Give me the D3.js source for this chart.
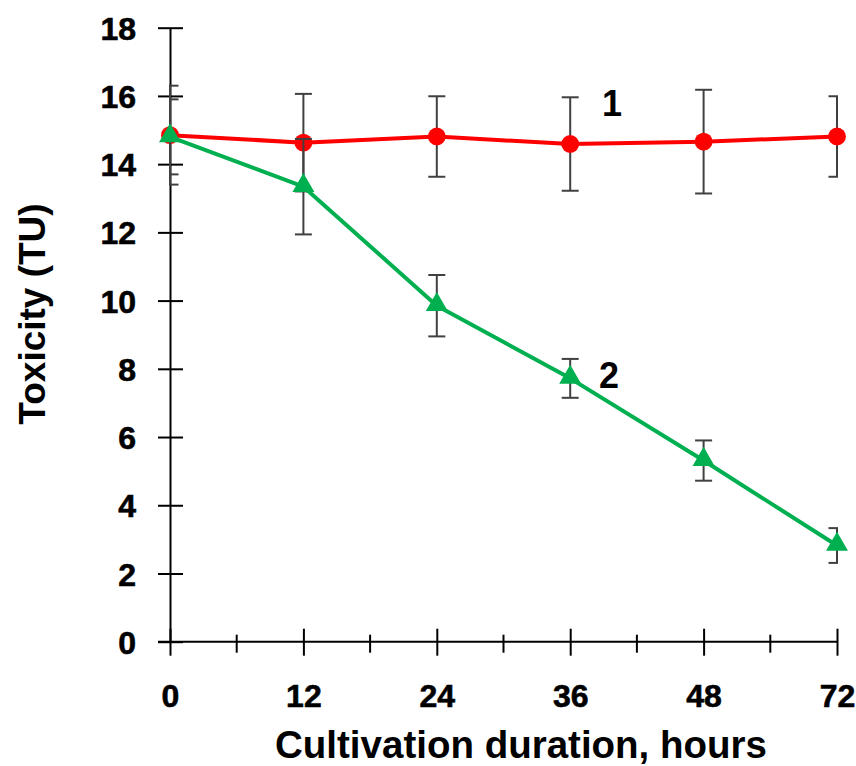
<!DOCTYPE html>
<html><head><meta charset="utf-8">
<script src="https://cdn.jsdelivr.net/npm/d3@7"></script>
<style>
html,body{margin:0;padding:0;background:#fff;}
svg{display:block;font-family:"Liberation Sans",Arial,sans-serif;font-weight:bold;}
</style></head>
<body><svg id="c" width="856" height="766"></svg>
<script>
const categories = ["0","12","24","36","48","72"];
const series1 = [14.85, 14.63, 14.81, 14.59, 14.66, 14.81];
const err1    = [1.45, 1.43, 1.18, 1.37, 1.52, 1.18];
const series2 = [14.8, 13.34, 9.85, 7.72, 5.31, 2.82];
const err2    = [1.1, 1.4, 0.9, 0.57, 0.59, 0.51];
const yTicks  = [0, 2, 4, 6, 8, 10, 12, 14, 16, 18];
const seriesLabels = ["1", "2"];

const svg = d3.select("#c");
const L = 170, R = 837, T = 27.7, B = 641.7;
const x = d3.scalePoint().domain(categories).range([L, R]);
const y = d3.scaleLinear().domain([0, 18]).range([B, T]);

// y axis
const ya = svg.append("g").attr("transform", `translate(${L},0)`)
  .call(d3.axisLeft(y).tickValues(yTicks).tickSizeOuter(0).tickSizeInner(12).tickPadding(0).tickFormat(d3.format("d")));
ya.select(".domain").attr("stroke", "#000").attr("stroke-width", 2);
ya.selectAll(".tick line").attr("x1", 13).attr("x2", -12).attr("stroke", "#000").attr("stroke-width", 2);
ya.selectAll(".tick text").attr("x", -34).attr("dy", "0.36em").attr("font-size", 32)
  .attr("fill", "#000").attr("stroke", "#000").attr("stroke-width", 0.6);

// x axis
const xa = svg.append("g").attr("transform", `translate(0,${B})`)
  .call(d3.axisBottom(x).tickSizeOuter(0).tickSizeInner(14).tickPadding(0));
xa.select(".domain").attr("d", `M${L-12},0H${R}`).attr("stroke", "#000").attr("stroke-width", 2);
xa.selectAll(".tick line").attr("y1", -13).attr("y2", 14).attr("stroke", "#000").attr("stroke-width", 2);
xa.selectAll(".tick text").attr("y", 65).attr("dy", 0).attr("font-size", 32)
  .attr("fill", "#000").attr("stroke", "#000").attr("stroke-width", 0.6);
const mids = d3.pairs(categories).map(([a, b]) => (x(a) + x(b)) / 2);
xa.selectAll("line.minor").data(mids).join("line").attr("class", "minor")
  .attr("x1", d => d).attr("x2", d => d).attr("y1", -7).attr("y2", 11)
  .attr("stroke", "#000").attr("stroke-width", 2);

// clip for error bars
svg.append("clipPath").attr("id", "pa").append("rect")
  .attr("x", L - 1).attr("y", 0).attr("width", R - L + 2).attr("height", 766);

function drawSeries(vals, errs, color, marker) {
  const g = svg.append("g");
  const eb = g.append("g").attr("clip-path", "url(#pa)");
  vals.forEach((v, i) => {
    const cx = x(categories[i]);
    const e = errs[i];
    const lo = y(v - e), hi = y(v + e);
    eb.append("line").attr("x1", cx).attr("x2", cx).attr("y1", hi).attr("y2", lo)
      .attr("stroke", "#404040").attr("stroke-width", 2);
    [hi, lo].forEach(yy => eb.append("line").attr("x1", cx - 8.5).attr("x2", cx + 8.5)
      .attr("y1", yy).attr("y2", yy).attr("stroke", "#404040").attr("stroke-width", 2));
  });
  const line = d3.line().x((d, i) => x(categories[i])).y(d => y(d));
  g.append("path").datum(vals).attr("d", line).attr("fill", "none")
    .attr("stroke", color).attr("stroke-width", 4).attr("stroke-linejoin", "round");
  const sym = d3.symbol().type(marker === "circle" ? d3.symbolCircle : d3.symbolTriangle)
    .size(marker === "circle" ? 250 : 210);
  g.selectAll("path.m").data(vals).join("path").attr("class", "m")
    .attr("transform", (d, i) => `translate(${x(categories[i])},${y(d) + (marker === "circle" ? 0 : -1)})`)
    .attr("d", sym).attr("fill", color);
}
drawSeries(series1, err1, "#ff0000", "circle");
drawSeries(series2, err2, "#00b050", "triangle");

// series labels
svg.append("text").attr("x", 612).attr("y", 116).attr("text-anchor", "middle")
  .attr("font-size", 36).attr("fill", "#000").text(seriesLabels[0]);
svg.append("text").attr("x", 609).attr("y", 388).attr("text-anchor", "middle")
  .attr("font-size", 36).attr("fill", "#000").text(seriesLabels[1]);

// axis titles
svg.append("text").attr("x", 521).attr("y", 758).attr("text-anchor", "middle")
  .attr("font-size", 38.5).attr("fill", "#000").text("Cultivation duration, hours");
svg.append("text").attr("transform", "translate(45,314) rotate(-90)").attr("text-anchor", "middle")
  .attr("font-size", 37).attr("fill", "#000").text("Toxicity (TU)");
</script></body></html>
